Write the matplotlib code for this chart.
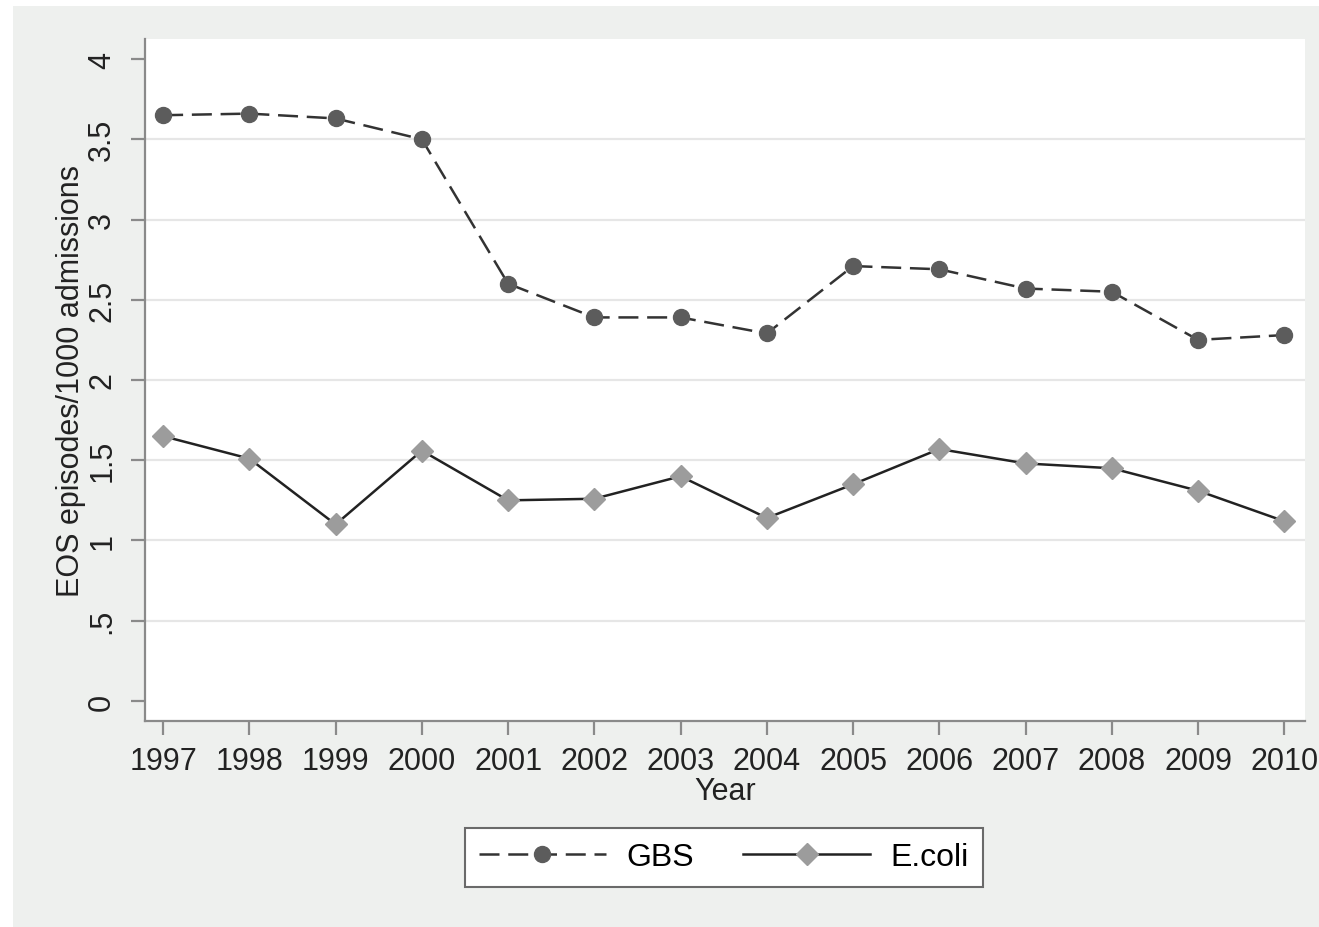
import numpy as np
import matplotlib.pyplot as plt
from matplotlib.patches import Rectangle

# data
years = [1997, 1998, 1999, 2000, 2001, 2002, 2003, 2004, 2005, 2006, 2007, 2008, 2009, 2010]
gbs = [3.65, 3.66, 3.63, 3.50, 2.60, 2.39, 2.39, 2.29, 2.71, 2.69, 2.57, 2.55, 2.25, 2.28]
ecoli = [1.65, 1.51, 1.10, 1.56, 1.25, 1.26, 1.40, 1.14, 1.35, 1.57, 1.48, 1.45, 1.31, 1.12]
yticks = [0, 0.5, 1, 1.5, 2, 2.5, 3, 3.5, 4]
ytick_labels = ['0', '.5', '1', '1.5', '2', '2.5', '3', '3.5', '4']

plt.rcParams['font.family'] = ['Liberation Sans', 'DejaVu Sans']

fig = plt.figure(figsize=(13.19, 9.28), dpi=100)
fig.patch.set_facecolor('white')
# stata-like gray background with a thin white margin on left/top
fig.patches.append(Rectangle((13 / 1319, 0), 1, 1 - 7 / 928, transform=fig.transFigure,
                             facecolor='#eef0ee', edgecolor='none', zorder=-10))

ax = fig.add_axes([145 / 1319, (928 - 722) / 928, (1305 - 145) / 1319, (722 - 40) / 928])
ax.set_facecolor('white')

ax.plot(years, gbs, color='#333333', lw=1.8, dashes=(8, 3.5),
        marker='o', markersize=11.5, markerfacecolor='#5c5c5c', markeredgecolor='#5c5c5c',
        label='GBS', zorder=3)
ax.plot(years, ecoli, color='#222222', lw=1.8, linestyle='-',
        marker='D', markersize=11, markerfacecolor='#9c9c9c', markeredgecolor='#9c9c9c',
        label='E.coli', zorder=3)

ax.set_xlim(1996.79, 2010.24)
ax.set_ylim(-0.125, 4.125)
ax.set_xticks(years)
ax.set_yticks(yticks)
ax.set_yticklabels(ytick_labels, rotation=90, va='center')

# gridlines only between the end ticks
for y in yticks[1:-1]:
    ax.axhline(y, color='#e6e6e6', lw=1.6, zorder=1)

for s in ['top', 'right']:
    ax.spines[s].set_visible(False)
for s in ['left', 'bottom']:
    ax.spines[s].set_color('#8a8a8a')
    ax.spines[s].set_linewidth(1.6)

ax.tick_params(axis='both', length=10, width=1.6, color='#8a8a8a', labelsize=22, labelcolor='#222222')
ax.tick_params(axis='x', pad=8)
ax.tick_params(axis='y', pad=10)

ax.set_xlabel('Year', fontsize=22, color='#222222', labelpad=0)
ax.set_ylabel('EOS episodes/1000 admissions', fontsize=22, color='#222222', labelpad=1)

leg = fig.legend(loc='upper center', bbox_to_anchor=(724 / 1319, (928 - 829) / 928), ncol=2,
                 fontsize=23, handlelength=3.95, handletextpad=0.65, columnspacing=1.55,
                 fancybox=False, framealpha=1, borderpad=0.45, borderaxespad=0)
leg.get_frame().set_edgecolor('#6a6a6a')
leg.get_frame().set_linewidth(1.5)

plt.savefig('out.png', dpi=100, facecolor=fig.get_facecolor())
